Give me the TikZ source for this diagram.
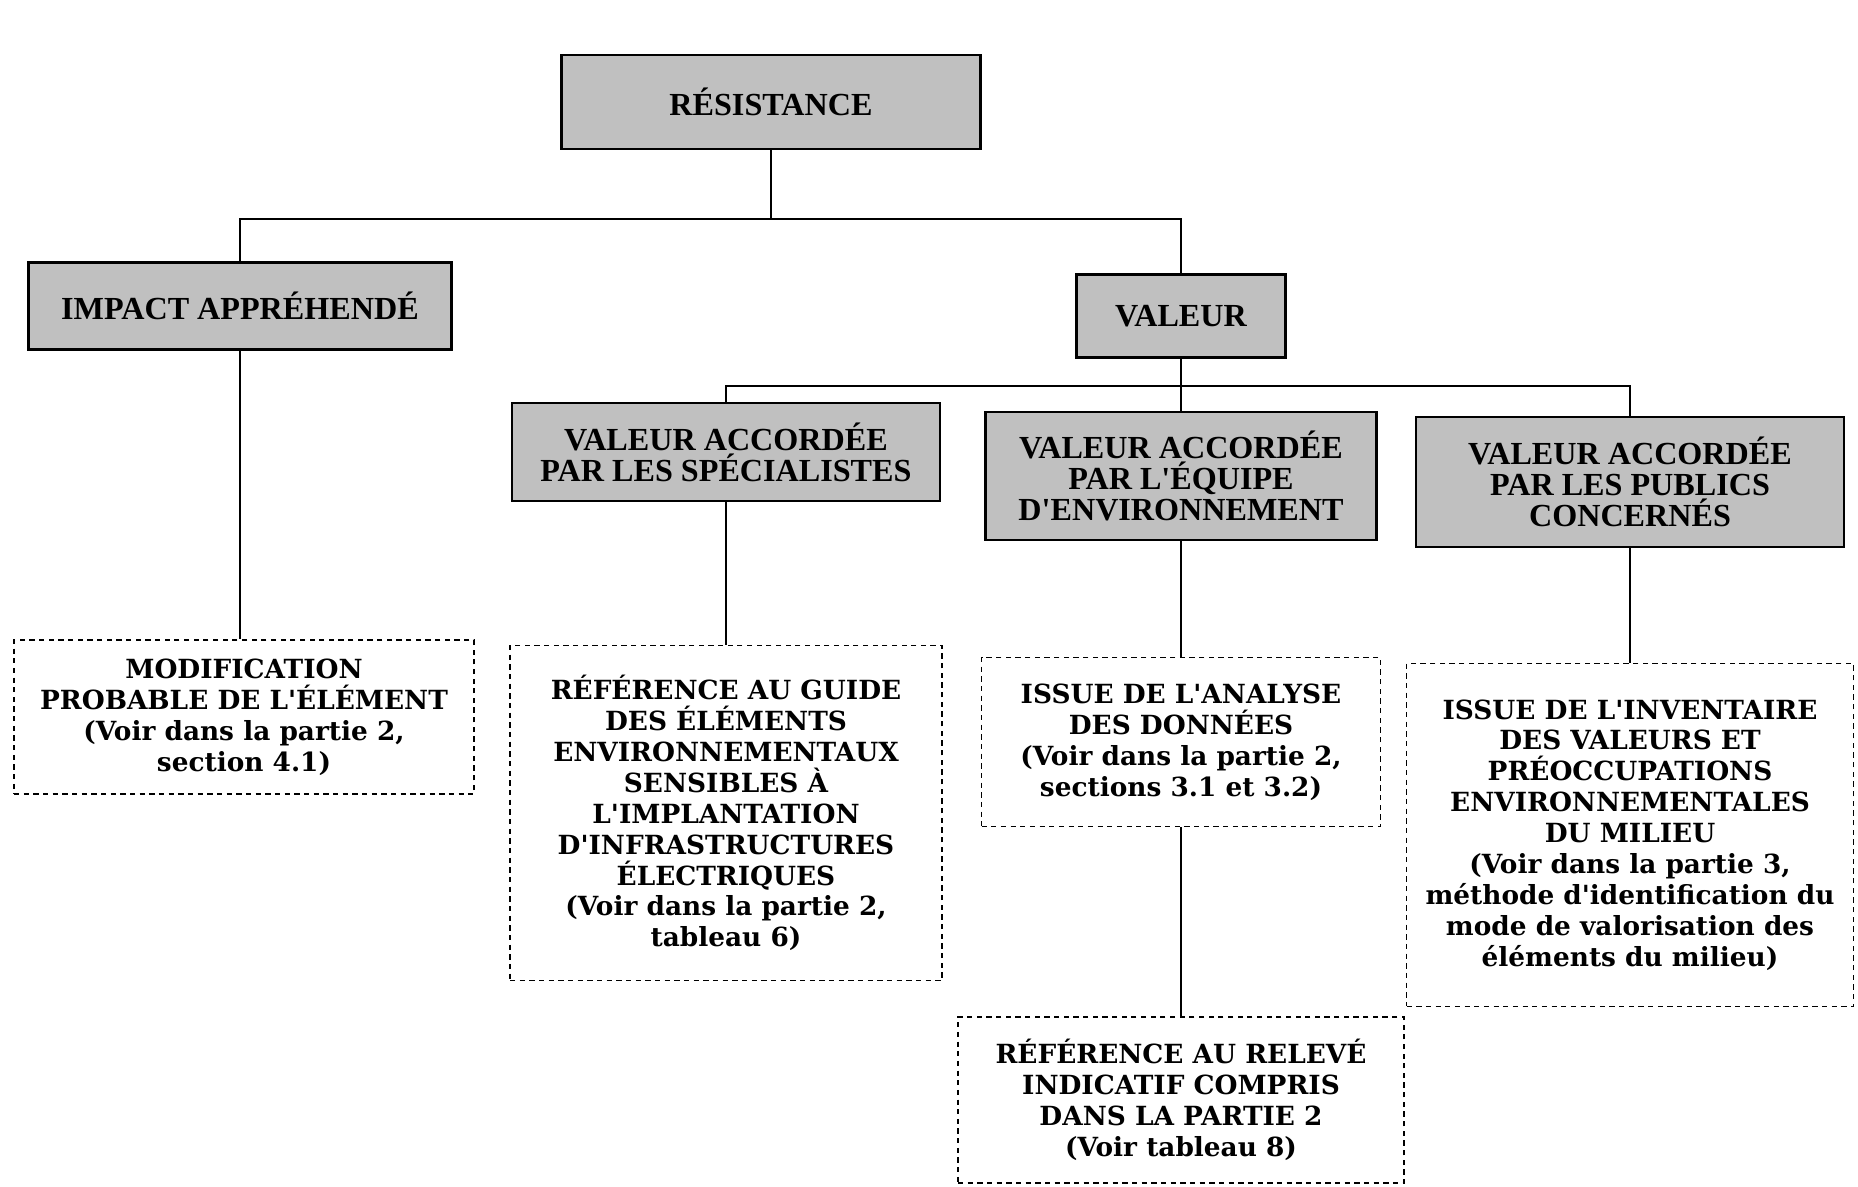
\documentclass[tikz,border=0pt]{standalone}
\usepackage{fontspec}
\setmainfont{Liberation Serif}
\newfontfamily\slabfont{DejaVu Serif}
\usetikzlibrary{calc}
\definecolor{trame}{RGB}{192,192,192}
\tikzset{
  critere/.style={draw, line width=1.6pt, fill=trame, align=center, inner sep=2pt,
    font=\bfseries\fontsize{18.3}{17.6}\selectfont},
  source/.style={draw, line width=1pt, dash pattern=on 3pt off 2.5pt, align=center, inner sep=2pt,
    font=\slabfont\bfseries\fontsize{15}{17.6}\selectfont},
  lien/.style={line width=1.6pt}
}
\begin{document}
\begin{tikzpicture}[x=0.02cm, y=-0.02cm]
  \useasboundingbox (0,0) rectangle (1858,1186);
  % niveau 1
  \node[critere, minimum width=8.38cm, minimum height=1.88cm] (res) at (771,102) {RÉSISTANCE};
  % niveau 2
  \node[critere, minimum width=8.46cm, minimum height=1.74cm] (imp) at (240,306) {IMPACT APPRÉHENDÉ};
  \node[critere, minimum width=4.18cm, minimum height=1.66cm] (val) at (1181,316) {VALEUR};
  % niveau 3
  \node[critere, minimum width=8.56cm, minimum height=1.96cm] (spec) at (726,452)
    {VALEUR ACCORDÉE\\PAR LES SPÉCIALISTES};
  \node[critere, minimum width=7.82cm, minimum height=2.56cm] (equ) at (1181,476)
    {VALEUR ACCORDÉE\\PAR L\textquotesingle ÉQUIPE\\D\textquotesingle ENVIRONNEMENT};
  \node[critere, minimum width=8.56cm, minimum height=2.6cm] (pub) at (1630,482)
    {VALEUR ACCORDÉE\\PAR LES PUBLICS\\CONCERNÉS};
  % sources
  \node[source, minimum width=9.2cm, minimum height=3.08cm] (mod) at (244,717)
    {MODIFICATION\\PROBABLE DE L'ÉLÉMENT\\(Voir dans la partie 2,\\section 4.1)};
  \node[source, minimum width=8.64cm, minimum height=6.7cm] (gui) at (726,813)
    {RÉFÉRENCE AU GUIDE\\DES ÉLÉMENTS\\ENVIRONNEMENTAUX\\SENSIBLES À\\L'IMPLANTATION\\D'INFRASTRUCTURES\\ÉLECTRIQUES\\(Voir dans la partie 2,\\tableau 6)};
  \node[source, minimum width=7.98cm, minimum height=3.38cm] (ana) at (1181,742)
    {ISSUE DE L'ANALYSE\\DES DONNÉES\\(Voir dans la partie 2,\\sections 3.1 et 3.2)};
  \node[source, minimum width=8.92cm, minimum height=3.32cm] (rel) at (1181,1100)
    {RÉFÉRENCE AU RELEVÉ\\INDICATIF COMPRIS\\DANS LA PARTIE 2\\(Voir tableau 8)};
  \node[source, minimum width=8.94cm, minimum height=6.86cm] (inv) at (1630,835)
    {ISSUE DE L'INVENTAIRE\\DES VALEURS ET\\PRÉOCCUPATIONS\\ENVIRONNEMENTALES\\DU MILIEU\\(Voir dans la partie 3,\\méthode d'identification du\\mode de valorisation des\\éléments du milieu)};
  % liens
  \coordinate (j1) at (771,219);
  \coordinate (j2) at (1181,386);
  \draw[lien] (res.south) -- (j1);
  \draw[lien] (imp.north) |- (j1) -| (val.north);
  \draw[lien] (val.south) -- (equ.north);
  \draw[lien] (spec.north) |- (j2) -| (pub.north);
  \draw[lien] (imp.south) -- (imp.south |- mod.north);
  \draw[lien] (spec.south) -- (gui.north);
  \draw[lien] (equ.south) -- (ana.north);
  \draw[lien] (ana.south) -- (rel.north);
  \draw[lien] (pub.south) -- (inv.north);
\end{tikzpicture}
\end{document}
